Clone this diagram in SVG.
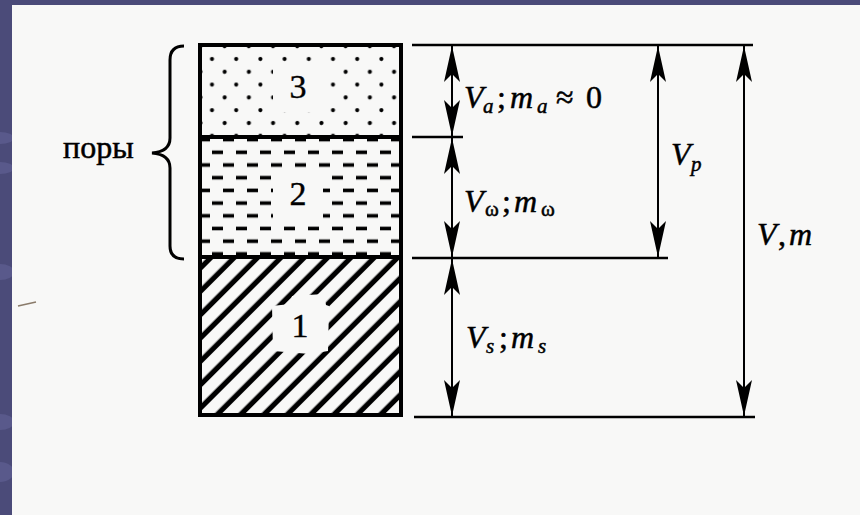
<svg xmlns="http://www.w3.org/2000/svg" width="860" height="515" viewBox="0 0 860 515">
<style>
.lab{font-family:"Liberation Serif","Times New Roman",serif;font-size:32px;fill:#000;stroke:#000;stroke-width:0.5}
.it{font-style:italic}
.sub{font-size:21px}
.num{font-family:"Liberation Serif","Times New Roman",serif;font-size:34px;fill:#000;stroke:#000;stroke-width:0.4;text-anchor:middle}
.ref{stroke:#000;stroke-width:2.5;fill:none}
.dim{stroke:#000;stroke-width:2;fill:none;marker-start:url(#ah);marker-end:url(#ah)}
</style>
<defs>
<marker id="ah" markerUnits="userSpaceOnUse" markerWidth="40" markerHeight="20" viewBox="-38 -10 40 20" refX="0" refY="0" orient="auto-start-reverse">
<path d="M0,0 L-36,-8 L-28,0 L-36,8 Z" fill="#000"/>
</marker>
<pattern id="dots" patternUnits="userSpaceOnUse" x="200" y="52" width="24.2" height="25.6">
<circle cx="12" cy="7" r="2.1" fill="#000"/>
<circle cx="0.5" cy="19.8" r="2.1" fill="#000"/>
<circle cx="24.7" cy="19.8" r="2.1" fill="#000"/>
</pattern>
<pattern id="dash" patternUnits="userSpaceOnUse" x="200" y="146" width="24" height="25.4">
<rect x="12" y="4.5" width="11" height="3.6" fill="#000"/>
<rect x="0" y="17.2" width="10" height="3.6" fill="#000"/>
<rect x="23" y="17.2" width="1" height="3.6" fill="#000"/>
</pattern>
<pattern id="hatch" patternUnits="userSpaceOnUse" width="40" height="16.5" patternTransform="translate(200 257) rotate(-45)">
<rect x="0" y="5.5" width="40" height="5.2" fill="#000"/>
</pattern>
</defs>

<g id="background">
<rect x="0" y="0" width="860" height="515" fill="#4b4b79"/>
<g fill="#5d5d90" opacity="0.8">
<ellipse cx="0" cy="138" rx="14" ry="6"/>
<ellipse cx="0" cy="168" rx="14" ry="6"/>
<ellipse cx="0" cy="272" rx="14" ry="8"/>
<ellipse cx="0" cy="422" rx="14" ry="8"/>
<ellipse cx="0" cy="472" rx="14" ry="10"/>
</g>
<rect x="12" y="5" width="848" height="510" fill="#f8f8f7"/>
<line x1="18" y1="306" x2="36" y2="302" stroke="#8a7b6a" stroke-width="1.5"/>
</g>

<g id="layer3">
<rect x="200" y="45" width="201" height="92" fill="url(#dots)"/>
<rect x="273" y="66" width="52" height="46" fill="#f8f8f7"/>
<text class="num" x="298" y="98">3</text>
</g>

<g id="layer2">
<rect x="200" y="137" width="201" height="120" fill="url(#dash)"/>
<rect x="273" y="172" width="50" height="47" fill="#f8f8f7"/>
<text class="num" x="298" y="205">2</text>
</g>

<g id="layer1">
<rect x="200" y="257" width="201" height="158" fill="url(#hatch)"/>
<path d="M292,296 L324,294 L326,305 L329,306 L328,351 L310,354 L273,351 L272,306 L290,304 Z" fill="#f8f8f7"/>
<text class="num" x="300" y="337">1</text>
</g>

<g id="column">
<rect x="200" y="45" width="201" height="370" fill="none" stroke="#000" stroke-width="4"/>
<line x1="200" y1="137" x2="401" y2="137" stroke="#000" stroke-width="4"/>
<line x1="200" y1="257" x2="401" y2="257" stroke="#000" stroke-width="4"/>
</g>

<g id="pores">
<path d="M184,46 C175,46 170,50 170,60 L170,138 C170,147 164,152 152,153 C164,154 170,159 170,168 L170,246 C170,255 175,259 184,259" fill="none" stroke="#000" stroke-width="3"/>
<text class="lab" x="63" y="158">поры</text>
</g>

<g id="connectors">
<line class="ref" x1="412" y1="45" x2="753" y2="45"/>
<line class="ref" x1="412" y1="137" x2="463" y2="137"/>
<line class="ref" x1="412" y1="258" x2="668" y2="258"/>
<line class="ref" x1="414" y1="417" x2="755" y2="417"/>
<line class="dim" x1="452" y1="46" x2="452" y2="136"/>
<line class="dim" x1="452" y1="138" x2="452" y2="257"/>
<line class="dim" x1="452" y1="259" x2="452" y2="416"/>
<line class="dim" x1="658" y1="46" x2="658" y2="257"/>
<line class="dim" x1="744" y1="46" x2="744" y2="416"/>
</g>

<g id="labels">
<text class="lab"><tspan class="it" x="464" y="108">V</tspan><tspan class="sub it" x="483" y="113">a</tspan><tspan x="497" y="108">;</tspan><tspan class="it" x="510" y="108">m</tspan><tspan class="sub it" x="537" y="113">a</tspan><tspan x="556" y="108">≈</tspan><tspan x="586" y="108">0</tspan></text>
<text class="lab"><tspan class="it" x="464" y="212">V</tspan><tspan class="sub" x="485" y="216">ω</tspan><tspan x="502" y="212">;</tspan><tspan class="it" x="514" y="212">m</tspan><tspan class="sub" x="541" y="216">ω</tspan></text>
<text class="lab"><tspan class="it" x="466" y="348">V</tspan><tspan class="sub it" x="486" y="353">s</tspan><tspan x="499" y="348">;</tspan><tspan class="it" x="511" y="348">m</tspan><tspan class="sub it" x="538" y="353">s</tspan></text>
<text class="lab"><tspan class="it" x="671" y="165">V</tspan><tspan class="sub it" x="691" y="171">p</tspan></text>
<text class="lab"><tspan class="it" x="757" y="245">V</tspan><tspan x="778" y="245">,</tspan><tspan class="it" x="789" y="245">m</tspan></text>
</g>
</svg>
